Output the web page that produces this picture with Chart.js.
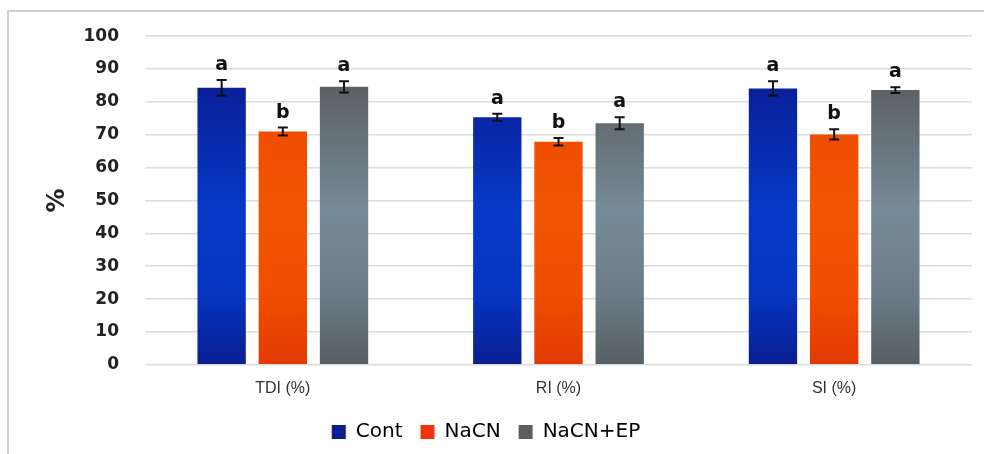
<!DOCTYPE html>
<html>
<head>
<meta charset="utf-8">
<script src="https://cdn.jsdelivr.net/npm/chart.js@4.4.1/dist/chart.umd.min.js"></script>
<style>
  html, body { margin: 0; padding: 0; background: #fff; }
  #wrap { position: relative; width: 984px; height: 454px; }
  #frame { position: absolute; left: 7px; top: 10px; right: 0; bottom: 0;
           border-top: 2px solid #d0d0d0; border-left: 2px solid #d0d0d0; }
  canvas { position: absolute; left: 0; top: 0; }
</style>
</head>
<body>
<div id="wrap">
  <div id="frame"></div>
  <canvas id="chart" width="984" height="454"></canvas>
</div>
<script>
// ── Data ──────────────────────────────────────────────
const CATEGORIES = ['TDI (%)', 'RI (%)', 'SI (%)'];
const SERIES = ['Cont', 'NaCN', 'NaCN+EP'];

const CONT      = [84.3, 75.3, 84.1];
const NACN      = [71.0, 67.9, 70.1];
const NACN_EP   = [84.6, 73.5, 83.6];

const CONT_ERR    = [2.4, 1.1, 2.2];
const NACN_ERR    = [1.2, 1.15, 1.55];
const NACN_EP_ERR = [1.7, 1.8, 0.85];

const CONT_SIG    = ['a', 'a', 'a'];
const NACN_SIG    = ['b', 'b', 'b'];
const NACN_EP_SIG = ['a', 'a', 'a'];

const Y_TICKS = [0, 10, 20, 30, 40, 50, 60, 70, 80, 90, 100];

// ── Styles ────────────────────────────────────────────
const GRADS = {
  cont:  ['#0a1f98', '#0539c8', '#0634c0', '#0a1e90'],
  nacn:  ['#ee4800', '#f25500', '#f04d00', '#e23a00'],
  ep:    ['#5c6064', '#768b98', '#6c7c86', '#565f64'],
};
const LEGEND_COLORS = ['#0a1e8c', '#f0330a', '#5b5f62'];

function vGrad(stops) {
  return ctx => {
    const chart = ctx.chart;
    const a = chart.chartArea;
    if (!a) return stops[1];
    const g = chart.ctx.createLinearGradient(0, a.top + 50, 0, a.bottom);
    g.addColorStop(0, stops[0]);
    g.addColorStop(0.45, stops[1]);
    g.addColorStop(0.75, stops[2]);
    g.addColorStop(1, stops[3]);
    return g;
  };
}

// ── Error bars + significance letters ─────────────────
const errorBars = {
  id: 'errorBars',
  afterDatasetsDraw(chart) {
    const { ctx } = chart;
    const y = chart.scales.y;
    chart.data.datasets.forEach((ds, i) => {
      const meta = chart.getDatasetMeta(i);
      meta.data.forEach((bar, j) => {
        const v = ds.data[j], e = ds.err[j];
        const hi = y.getPixelForValue(v + e);
        const lo = y.getPixelForValue(v - e);
        ctx.save();
        ctx.strokeStyle = '#111';
        ctx.lineWidth = 2;
        ctx.beginPath();
        ctx.moveTo(bar.x, hi); ctx.lineTo(bar.x, lo);
        ctx.moveTo(bar.x - 5, hi); ctx.lineTo(bar.x + 5, hi);
        ctx.moveTo(bar.x - 5, lo); ctx.lineTo(bar.x + 5, lo);
        ctx.stroke();
        ctx.font = '600 19px "DejaVu Sans"';
        ctx.fillStyle = '#111';
        ctx.textAlign = 'center';
        ctx.textBaseline = 'alphabetic';
        ctx.fillText(ds.sig[j], bar.x, hi - 10);
        ctx.restore();
      });
    });
  }
};

function makeSet(label, data, err, sig, grad) {
  return {
    label, data, err, sig,
    backgroundColor: vGrad(grad),
    borderWidth: 0,
    categoryPercentage: 0.666,
    barPercentage: 0.79,
  };
}

new Chart(document.getElementById('chart'), {
  type: 'bar',
  data: {
    labels: CATEGORIES,
    datasets: [
      makeSet(SERIES[0], CONT, CONT_ERR, CONT_SIG, GRADS.cont),
      makeSet(SERIES[1], NACN, NACN_ERR, NACN_SIG, GRADS.nacn),
      makeSet(SERIES[2], NACN_EP, NACN_EP_ERR, NACN_EP_SIG, GRADS.ep),
    ]
  },
  options: {
    responsive: false,
    animation: false,
    layout: { padding: { left: 0, right: 12, top: 25, bottom: 2 } },
    plugins: {
      tooltip: { enabled: false },
      legend: {
        position: 'bottom',
        labels: {
          color: '#111',
          font: { family: 'DejaVu Sans', size: 20 },
          boxWidth: 14, boxHeight: 14, padding: 18,
          generateLabels: chart => chart.data.datasets.map((ds, i) => ({
            text: ds.label, fillStyle: LEGEND_COLORS[i], strokeStyle: LEGEND_COLORS[i],
            lineWidth: 0, datasetIndex: i, hidden: false,
          })),
        }
      }
    },
    scales: {
      x: {
        grid: { display: false },
        border: { display: false },
        ticks: { color: '#333', padding: 6,
                 font: { family: 'Liberation Sans', size: 16 } },
      },
      y: {
        min: 0, max: 100,
        afterBuildTicks: s => { s.ticks = Y_TICKS.map(v => ({ value: v })); },
        afterFit: s => { s.width = 145; },
        grid: { color: '#dcdcdc', lineWidth: 1.5, drawTicks: false },
        border: { display: false },
        ticks: { color: '#222', padding: 26,
                 font: { family: 'DejaVu Sans', size: 17, weight: 'bold' } },
        title: { display: true, text: '%', color: '#222',
                 padding: { top: 43, bottom: 0 },
                 font: { family: 'DejaVu Sans', size: 24, weight: 'bold' } },
      }
    }
  },
  plugins: [errorBars]
});
</script>
</body>
</html>
